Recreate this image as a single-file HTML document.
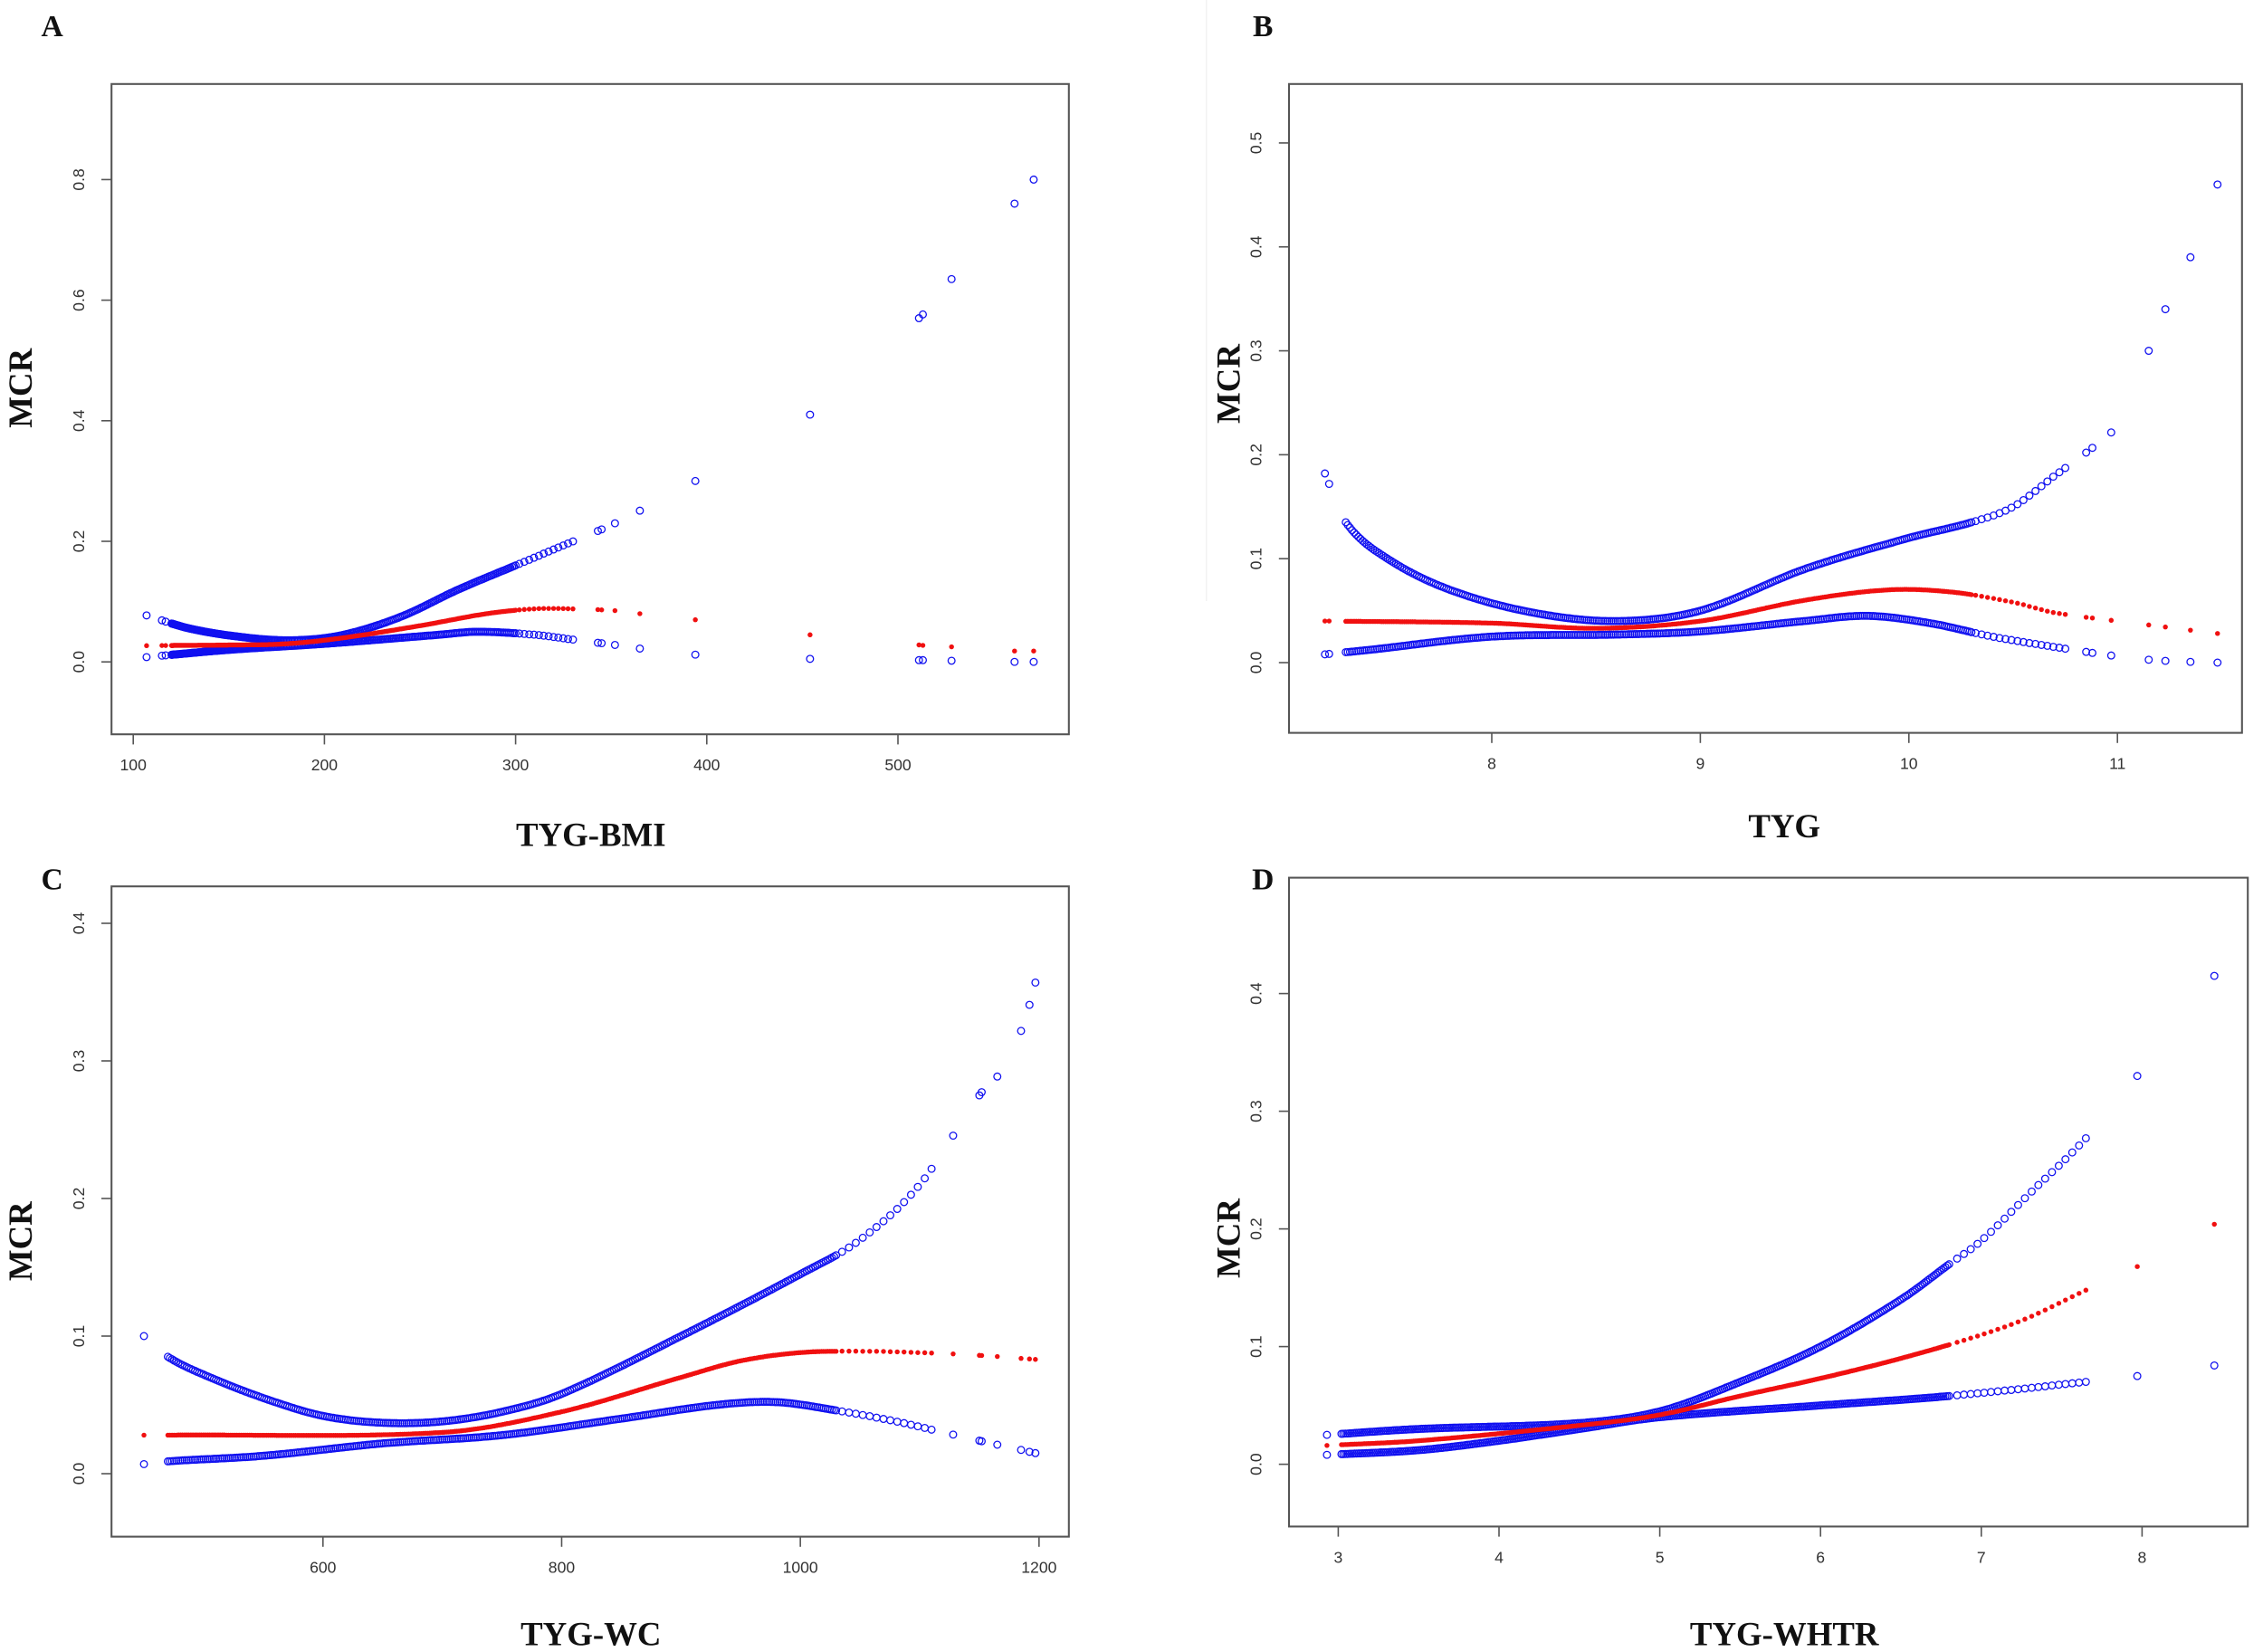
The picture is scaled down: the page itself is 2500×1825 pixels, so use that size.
<!DOCTYPE html>
<html><head><meta charset="utf-8"><style>
html,body{margin:0;padding:0;background:#fff;}
svg{display:block;}
.tk{font-family:"Liberation Sans",sans-serif;font-size:11px;fill:#333;}
.ttl{font-family:"Liberation Serif",serif;font-weight:bold;font-size:23px;fill:#111;}
.lt{font-family:"Liberation Serif",serif;font-weight:bold;font-size:21px;fill:#111;}
</style></head><body>
<svg id="s" width="2500" height="1825" viewBox="0 0 1562.5 1140.625" xmlns="http://www.w3.org/2000/svg">
<rect width="1562.5" height="1140.625" fill="#fff"/>
<line x1="833" y1="0" x2="833" y2="415" stroke="#f2f2f2" stroke-width="1"/>
<g id="g"></g>
</svg>
<script>
var NS="http://www.w3.org/2000/svg",G=document.getElementById("g");
function el(t,a,txt){var e=document.createElementNS(NS,t);for(var k in a)e.setAttribute(k,a[k]);if(txt!==undefined)e.textContent=txt;G.appendChild(e);return e;}
function smooth(cp,x){
 var n=cp.length;
 if(x<=cp[0][0])return cp[0][1];
 if(x>=cp[n-1][0])return cp[n-1][1];
 var i=0;while(i<n-2&&x>cp[i+1][0])i++;
 function slope(k){
  if(k==0)return (cp[1][1]-cp[0][1])/(cp[1][0]-cp[0][0]);
  if(k==n-1)return (cp[n-1][1]-cp[n-2][1])/(cp[n-1][0]-cp[n-2][0]);
  return (cp[k+1][1]-cp[k-1][1])/(cp[k+1][0]-cp[k-1][0]);
 }
 var x0=cp[i][0],x1=cp[i+1][0],h=x1-x0,t=(x-x0)/h;
 var y0=cp[i][1],y1=cp[i+1][1],m0=slope(i)*h,m1=slope(i+1)*h;
 var t2=t*t,t3=t2*t;
 return (2*t3-3*t2+1)*y0+(t3-2*t2+t)*m0+(-2*t3+3*t2)*y1+(t3-t2)*m1;
}
function panel(P){
 var X=function(v){return P.x0+(v-P.xv0)*P.xs;},Y=function(v){return P.y0-(v)*P.ys;};
 el("rect",{x:P.bx,y:P.by,width:P.bw,height:P.bh,fill:"none",stroke:"#555","stroke-width":1.3});
 P.xt.forEach(function(v){var x=X(v);el("line",{x1:x,y1:P.by+P.bh,x2:x,y2:P.by+P.bh+7,stroke:"#555","stroke-width":1});
  el("text",{x:x,y:P.by+P.bh+25,"text-anchor":"middle",class:"tk"},v);});
 P.yt.forEach(function(v){var y=Y(v);el("line",{x1:P.bx,y1:y,x2:P.bx-7,y2:y,stroke:"#555","stroke-width":1});
  el("text",{x:0,y:0,"text-anchor":"middle",class:"tk",transform:"translate("+(P.bx-19)+","+y+") rotate(-90)"},v.toFixed(1));});
 el("text",{x:0,y:0,"text-anchor":"middle",class:"ttl",transform:"translate("+(P.mx)+","+P.my+") rotate(-90)"},"MCR");
 el("text",{x:P.tx,y:P.ty,"text-anchor":"middle",class:"ttl"},P.title);
 el("text",{x:P.lx,y:P.ly,"text-anchor":"middle",class:"lt"},P.letter);
 var blue="",red="";
 P.xsamp.forEach(function(x){
  var px=X(x).toFixed(1);
  blue+='<circle cx="'+px+'" cy="'+Y(smooth(P.up,x)).toFixed(1)+'" r="2.4"/>';
  blue+='<circle cx="'+px+'" cy="'+Y(smooth(P.lo,x)).toFixed(1)+'" r="2.4"/>';
  red+='<circle cx="'+px+'" cy="'+Y(smooth(P.mid,x)).toFixed(1)+'" r="1.7"/>';
 });
 var gb=el("g",{fill:"none",stroke:"#1010f0","stroke-width":0.8});gb.innerHTML=blue;
 var gr=el("g",{fill:"#f01010"});gr.innerHTML=red;
}
function dense(a,b,n,p){var r=[];for(var i=0;i<n;i++){var t=i/(n-1);t=p?Math.pow(t,p):t;r.push(a+(b-a)*t);}return r;}
// Panel A
panel({bx:77,by:58,bw:661,bh:449,x0:92,xv0:100,xs:1.32,y0:457,ys:416.25,
 xt:[100,200,300,400,500],yt:[0,0.2,0.4,0.6,0.8],mx:22,my:268,tx:408,ty:584,title:"TYG-BMI",lx:36,ly:25,letter:"A",
 xsamp:[107,115,117].concat(dense(120,300,260,1.3)).concat(dense(302,330,12)).concat([343,345,352,365,394,454,511,513,528,561,571]),
 up:[[107,0.077],[130,0.055],[160,0.04],[185,0.036],[210,0.045],[240,0.075],[270,0.12],[300,0.16],[330,0.2],[352,0.23],[394,0.3],[454,0.41],[511,0.57],[528,0.635],[561,0.76],[571,0.8]],
 mid:[[107,0.027],[150,0.028],[180,0.03],[210,0.04],[250,0.06],[285,0.08],[310,0.088],[330,0.088],[352,0.085],[365,0.08],[394,0.07],[454,0.045],[511,0.028],[528,0.025],[561,0.018],[571,0.018]],
 lo:[[107,0.008],[150,0.02],[200,0.03],[260,0.045],[280,0.05],[310,0.045],[330,0.037],[352,0.028],[365,0.022],[394,0.012],[454,0.005],[511,0.003],[528,0.002],[561,0],[571,0]]});
// Panel B
panel({bx:890,by:58,bw:658,bh:448,x0:1030,xv0:8,xs:144,y0:457.5,ys:717.6,
 xt:[8,9,10,11],yt:[0,0.1,0.2,0.3,0.4,0.5],mx:856,my:265,tx:1232,ty:578,title:"TYG",lx:872,ly:25,letter:"B",
 xsamp:[7.2,7.22].concat(dense(7.3,10.3,300)).concat(dense(10.32,10.75,16)).concat([10.85,10.88,10.97,11.15,11.23,11.35,11.48]),
 up:[[7.2,0.182],[7.3,0.135],[7.5,0.1],[7.8,0.07],[8.2,0.048],[8.6,0.04],[9.0,0.05],[9.5,0.09],[10,0.12],[10.3,0.135],[10.5,0.15],[10.7,0.18],[10.9,0.21],[11.0,0.23],[11.15,0.3],[11.23,0.34],[11.35,0.39],[11.48,0.46]],
 mid:[[7.2,0.04],[8,0.038],[8.5,0.033],[9,0.04],[9.5,0.06],[9.9,0.07],[10.2,0.068],[10.5,0.058],[10.7,0.048],[11,0.04],[11.2,0.035],[11.48,0.028]],
 lo:[[7.2,0.008],[7.4,0.012],[8,0.025],[8.6,0.027],[9,0.03],[9.5,0.04],[9.8,0.045],[10.1,0.038],[10.4,0.025],[10.7,0.015],[11,0.006],[11.2,0.002],[11.48,0]]});
// Panel C
panel({bx:77,by:612,bw:661,bh:449,x0:223,xv0:600,xs:0.824,y0:1017.5,ys:950,
 xt:[600,800,1000,1200],yt:[0,0.1,0.2,0.3,0.4],mx:22,my:857,tx:408,ty:1136,title:"TYG-WC",lx:36,ly:614,letter:"C",
 xsamp:[450].concat(dense(470,1030,320)).concat(dense(1035,1110,14)).concat([1128,1150,1152,1165,1185,1192,1197]),
 up:[[450,0.1],[470,0.085],[500,0.072],[550,0.055],[600,0.042],[650,0.037],[700,0.038],[750,0.045],[800,0.058],[900,0.1],[1000,0.145],[1050,0.17],[1100,0.21],[1150,0.275],[1175,0.3],[1190,0.335],[1197,0.357]],
 mid:[[450,0.028],[470,0.028],[700,0.03],[800,0.045],[900,0.07],[950,0.082],[1000,0.088],[1050,0.089],[1100,0.088],[1150,0.086],[1197,0.083]],
 lo:[[450,0.007],[470,0.009],[550,0.013],[650,0.022],[750,0.028],[850,0.04],[930,0.05],[980,0.052],[1030,0.046],[1080,0.038],[1120,0.03],[1160,0.022],[1197,0.015]]});
// Panel D
panel({bx:890,by:606,bw:662,bh:448,x0:924,xv0:3,xs:111,y0:1011,ys:812.5,
 xt:[3,4,5,6,7,8],yt:[0,0.1,0.2,0.3,0.4],mx:856,my:855,tx:1232,ty:1136,title:"TYG-WHTR",lx:872,ly:614,letter:"D",
 xsamp:[2.93].concat(dense(3.02,6.8,320)).concat(dense(6.85,7.65,20)).concat([7.97,8.45]),
 up:[[2.93,0.025],[3.5,0.03],[4.5,0.035],[5,0.045],[5.5,0.07],[6,0.1],[6.5,0.14],[6.8,0.17],[7,0.19],[7.3,0.23],[7.65,0.277],[7.97,0.33],[8.45,0.415]],
 mid:[[2.93,0.016],[3.5,0.02],[4.5,0.033],[5,0.042],[5.5,0.058],[6,0.073],[6.5,0.09],[7,0.11],[7.3,0.125],[7.65,0.148],[7.97,0.168],[8.45,0.204]],
 lo:[[2.93,0.008],[3.5,0.012],[4,0.02],[4.5,0.03],[5,0.04],[6,0.05],[6.8,0.058],[7.65,0.07],[7.97,0.075],[8.45,0.084]]});
</script>
</body></html>
